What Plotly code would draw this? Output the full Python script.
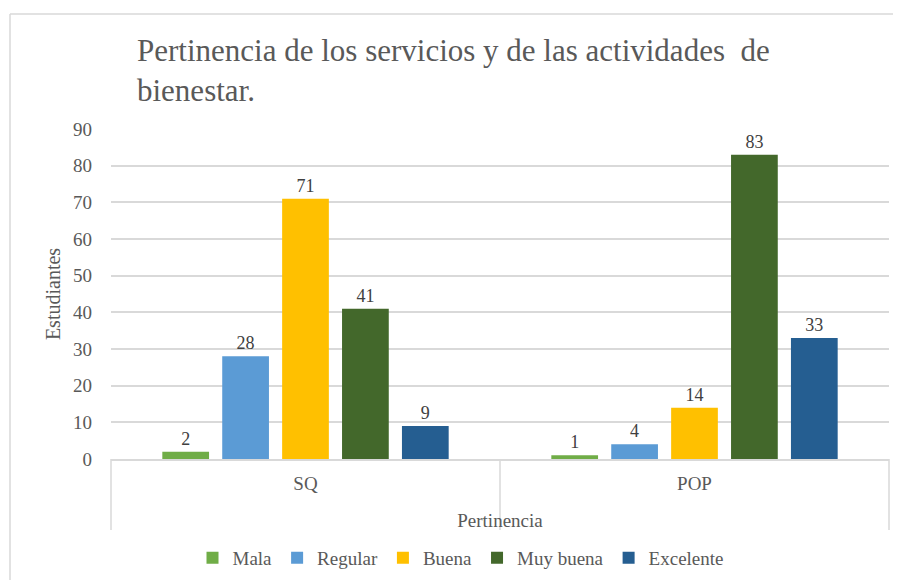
import plotly.graph_objects as go

categories = ["SQ", "POP"]
series_names = ["Mala", "Regular", "Buena", "Muy buena", "Excelente"]
mala = [2, 1]
regular = [28, 4]
buena = [71, 14]
muy_buena = [41, 83]
excelente = [9, 33]
y_ticks = [0, 10, 20, 30, 40, 50, 60, 70, 80, 90]

colors = ["#70AD47", "#5B9BD5", "#FFC000", "#43682B", "#255E91"]
values = [mala, regular, buena, muy_buena, excelente]

FONT = "Liberation Serif"
GRAY = "#595959"
W, H = 901, 580
OFF = 8  # page offset of the figure inside the browser page

# target positions in page pixels
PL, PR, PT, PB = 111, 889, 129, 459
L = PL - OFF
T = PT - OFF
R = W - (PR - OFF)
B = H - (PB - OFF)

pw = W - L - R
ph = H - T - B

def px_x(page_x):
    return (page_x - OFF - L) / pw

def px_y(page_y):
    return (H - B - (page_y - OFF)) / ph

fig = go.Figure()
for name, vals, col in zip(series_names, values, colors):
    fig.add_trace(go.Bar(
        name=name, x=categories, y=vals, marker_color=col,
        marker_line_width=0,
        text=[str(v) for v in vals], textposition="outside",
        textfont=dict(family=FONT, size=18, color="#404040"),
        cliponaxis=False,
    ))

shapes = []
for xp in [0, 0.5, 1]:
    shapes.append(dict(type="line", xref="paper", yref="paper",
                       x0=xp, x1=xp, y0=0, y1=px_y(530),
                       line=dict(color="#D9D9D9", width=1.5)))
shapes.append(dict(type="line", xref="paper", yref="paper",
                   x0=px_x(10), x1=px_x(910),
                   y0=px_y(14), y1=px_y(14),
                   line=dict(color="#D9D9D9", width=1.5)))
shapes.append(dict(type="line", xref="paper", yref="paper",
                   x0=px_x(10), x1=px_x(10),
                   y0=px_y(14), y1=px_y(600),
                   line=dict(color="#D9D9D9", width=1.5)))

title_text = ("Pertinencia de los servicios y de las actividades\u00a0 de"
              "<br>bienestar.")

fig.update_layout(
    width=W, height=H,
    margin=dict(l=L, r=R, t=T, b=B, autoexpand=False),
    paper_bgcolor="white", plot_bgcolor="white",
    barmode="group", bargap=0.23, bargroupgap=0.22,
    title=dict(
        text=title_text,
        font=dict(family=FONT, size=31, color=GRAY),
        xref="container", yref="container",
        x=(137 - OFF) / W, xanchor="left",
        y=1 - (61 - OFF) / H, yanchor="top",
    ),
    font=dict(family=FONT, color=GRAY),
    xaxis=dict(
        showline=True, linecolor="#D9D9D9", linewidth=1.5,
        showgrid=False, ticks="",
        tickfont=dict(family=FONT, size=19, color=GRAY),
        ticklabelstandoff=6,
        title=dict(text="Pertinencia", font=dict(family=FONT, size=19, color=GRAY), standoff=21),
    ),
    yaxis=dict(
        range=[0, 90], tickvals=y_ticks,
        showgrid=True, gridcolor="#D9D9D9", gridwidth=1.5,
        zeroline=False, showline=False,
        tickfont=dict(family=FONT, size=19, color=GRAY),
        ticklabelstandoff=18,
        title=dict(text="Estudiantes", font=dict(family=FONT, size=20, color=GRAY), standoff=7),
    ),
    legend=dict(
        orientation="h", xref="container", yref="container",
        x=(461 - OFF) / W, xanchor="center",
        y=1 - (558 - OFF) / H, yanchor="middle",
        font=dict(family=FONT, size=19, color=GRAY),
        itemwidth=30, traceorder="normal",
    ),
    shapes=shapes,
)

fig.write_html("out.html")
